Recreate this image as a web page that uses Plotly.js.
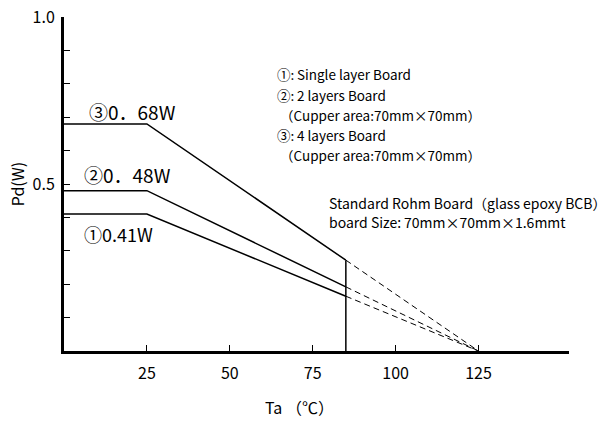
<!DOCTYPE html>
<html>
<head>
<meta charset="utf-8">
<script src="https://cdn.plot.ly/plotly-3.0.1.min.js"></script>
<style>html,body{margin:0;padding:0;background:#fff}#chart{width:609px;height:421px}</style>
</head>
<body>
<div id="chart"></div>
<script>
// Derating data
var tempSolid = [0, 25, 85];          // Ta (°C), solid part
var tempDashed = [85, 125];           // Ta (°C), extrapolated part
var board1 = [0.41, 0.41, 0.164];     // ① Single layer board
var board2 = [0.48, 0.48, 0.192];     // ② 2 layers board
var board3 = [0.68, 0.68, 0.272];     // ③ 4 layers board
var board1Dash = [0.164, 0];
var board2Dash = [0.192, 0];
var board3Dash = [0.272, 0];
var cutoffTemp = [85, 85];
var cutoffPd = [0, 0.272];
var xTicks = [25, 50, 75, 100, 125];
var xTickText = ['25', '50', '75', '100', '125'];
var yTicks = [0.1, 0.2, 0.3, 0.4, 0.5, 0.6, 0.7, 0.8, 0.9, 1.0];
var yTickText = ['', '', '', '', '0.5', '', '', '', '', '1.0'];
var curveLabels = ['\u24620\uff0e68W', '\u24610\uff0e48W', '\u24600.41W'];
var legendLines = [
  '\u2460:\u2009Single layer Board',
  '\u2461:\u20092 layers Board',
  '\uff08Cupper area:70mm\u00d770mm\uff09',
  '\u2462:\u20094 layers Board',
  '\uff08Cupper area:70mm\u00d770mm\uff09'
];
var boardLines = [
  'Standard Rohm Board\uff08glass epoxy BCB\uff09',
  'board Size:\u200970mm\u00d770mm\u00d71.6mmt'
];

var FONT = '"Noto Sans CJK JP", "Noto Sans", sans-serif';
var solid = {color: '#000', width: 1.5};
var dash = {color: '#000', width: 1, dash: '6px,4px'};

var traces = [
  {x: tempSolid, y: board3, mode: 'lines', line: solid, hoverinfo: 'none'},
  {x: tempSolid, y: board2, mode: 'lines', line: solid, hoverinfo: 'none'},
  {x: tempSolid, y: board1, mode: 'lines', line: solid, hoverinfo: 'none'},
  {x: tempDashed, y: board3Dash, mode: 'lines', line: dash, hoverinfo: 'none'},
  {x: tempDashed, y: board2Dash, mode: 'lines', line: dash, hoverinfo: 'none'},
  {x: tempDashed, y: board1Dash, mode: 'lines', line: dash, hoverinfo: 'none'},
  {x: cutoffTemp, y: cutoffPd, mode: 'lines', line: solid, hoverinfo: 'none'}
];

var annotations = [
  {xref: 'paper', yref: 'paper', x: 0.467, y: -0.168, xanchor: 'center', yanchor: 'middle',
   text: 'Ta \uff08\u2103\uff09', showarrow: false, font: {family: FONT, size: 16}},
  {xref: 'x', yref: 'y', x: 7, y: board3[0], xanchor: 'left', yanchor: 'middle', yshift: 12,
   text: curveLabels[0], showarrow: false, font: {family: FONT, size: 19}},
  {xref: 'x', yref: 'y', x: 5.5, y: board2[0], xanchor: 'left', yanchor: 'middle', yshift: 16,
   text: curveLabels[1], showarrow: false, font: {family: FONT, size: 19}},
  {xref: 'x', yref: 'y', x: 5.5, y: board1[0], xanchor: 'left', yanchor: 'middle', yshift: -20,
   text: curveLabels[2], showarrow: false, font: {family: FONT, size: 18}}
];
var legendY = [0.829, 0.766, 0.707, 0.647, 0.587];
var legendX = [0.418, 0.418, 0.424, 0.418, 0.424];
legendLines.forEach(function (t, i) {
  annotations.push({xref: 'paper', yref: 'paper', x: legendX[i], y: legendY[i],
    xanchor: 'left', yanchor: 'middle', text: t, showarrow: false,
    font: {family: FONT, size: 13.5}});
});
var boardY = [0.443, 0.386];
boardLines.forEach(function (t, i) {
  annotations.push({xref: 'paper', yref: 'paper', x: 0.521, y: boardY[i],
    xanchor: 'left', yanchor: 'middle', text: t, showarrow: false,
    font: {family: FONT, size: 14}});
});

var layout = {
  width: 609, height: 421,
  margin: {l: 64, r: 40, t: 17, b: 70},
  paper_bgcolor: '#fff', plot_bgcolor: '#fff',
  showlegend: false,
  font: {family: FONT, color: '#000', size: 16},
  xaxis: {
    range: [0, 152.3], showgrid: false, zeroline: false,
    showline: true, linecolor: '#000', linewidth: 3,
    tickmode: 'array', tickvals: xTicks, ticktext: xTickText,
    ticks: 'inside', ticklen: 6, tickwidth: 1, tickcolor: '#000',
    ticklabelstandoff: 6,
    tickfont: {family: FONT, size: 16}
  },
  yaxis: {
    range: [0, 1.0], showgrid: false, zeroline: false,
    showline: true, linecolor: '#000', linewidth: 3,
    tickmode: 'array', tickvals: yTicks, ticktext: yTickText,
    ticks: 'inside', ticklen: 6, tickwidth: 1, tickcolor: '#000',
    ticklabelstandoff: 3,
    tickfont: {family: FONT, size: 16},
    title: {text: 'Pd(W)', font: {family: FONT, size: 16}, standoff: 4}
  },
  annotations: annotations
};
Plotly.newPlot('chart', traces, layout, {staticPlot: true, displayModeBar: false});
</script>
</body>
</html>
